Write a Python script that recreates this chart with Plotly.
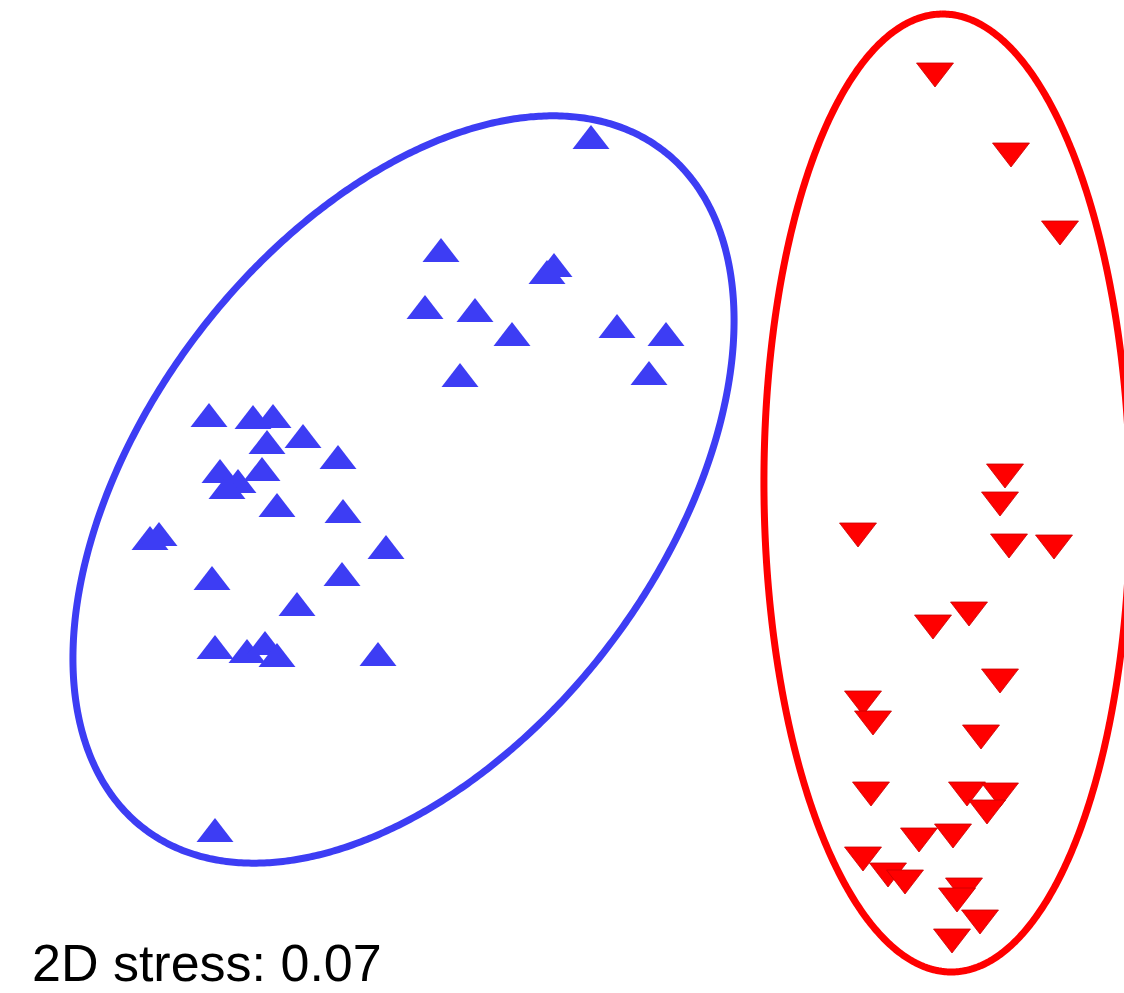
import numpy as np
import plotly.graph_objects as go

# NMDS ordination coordinates (screen units, y downward)
group_a_x = [209, 253, 273, 267, 303, 338, 220, 238, 227, 262, 277, 343, 150, 159, 386,
             212, 342, 297, 215, 247, 265, 277, 378, 215, 591, 441, 547, 554, 425, 475,
             512, 460, 617, 666, 649]
group_a_y = [419, 421, 420, 446, 440, 461, 475, 485, 491, 473, 509, 515, 542, 538, 551,
             582, 578, 608, 651, 655, 647, 659, 658, 834, 141, 254, 276, 269, 311, 314,
             338, 379, 330, 338, 377]

group_b_x = [935, 1011, 1060, 1005, 1000, 858, 1009, 1054, 969, 933, 1000, 863, 873, 981,
             871, 967, 1000, 987, 919, 953, 863, 888, 905, 964, 957, 980, 952]
group_b_y = [71, 151, 229, 472, 500, 531, 542, 543, 610, 623, 677, 699, 719, 733,
             790, 790, 791, 808, 836, 832, 855, 871, 878, 886, 896, 918, 937]

# Ellipse parameters: centre x, centre y, semi-major, semi-minor, angle (deg, counter-clockwise)
ellipse_a = dict(cx=403.5, cy=489.5, a=427, b=258, angle=52.6)
ellipse_b = dict(cx=947, cy=493, a=479, b=183, angle=90.6)

stress_label = "2D stress: 0.07"

BLUE = "#3D3DF4"
RED = "#FF0000"


def ellipse_xy(p, n=720):
    t = np.linspace(0, 2 * np.pi, n)
    th = np.deg2rad(p["angle"])
    x = p["cx"] + p["a"] * np.cos(th) * np.cos(t) - p["b"] * np.sin(th) * np.sin(t)
    y = p["cy"] - (p["a"] * np.sin(th) * np.cos(t) + p["b"] * np.cos(th) * np.sin(t))
    return x, y


fig = go.Figure()

ex, ey = ellipse_xy(ellipse_a)
fig.add_trace(go.Scatter(x=ex, y=ey, mode="lines",
                         line=dict(color=BLUE, width=7, simplify=False),
                         hoverinfo="skip", showlegend=False))
ex, ey = ellipse_xy(ellipse_b)
fig.add_trace(go.Scatter(x=ex, y=ey, mode="lines",
                         line=dict(color=RED, width=7, simplify=False),
                         hoverinfo="skip", showlegend=False))

fig.add_trace(go.Scatter(x=group_a_x, y=group_a_y, mode="markers",
                         marker=dict(symbol="triangle-up", size=32, color=BLUE,
                                     line=dict(width=0)),
                         showlegend=False))
fig.add_trace(go.Scatter(x=group_b_x, y=group_b_y, mode="markers",
                         marker=dict(symbol="triangle-down", size=32, color=RED,
                                     line=dict(width=0.8, color="#C80000")),
                         showlegend=False))

fig.add_annotation(x=30, y=963, xref="x", yref="y", text=stress_label, showarrow=False,
                   xanchor="left", yanchor="middle",
                   font=dict(family="Liberation Sans, Arial, sans-serif", size=52, color="black"))

fig.update_layout(
    width=1124, height=993,
    margin=dict(l=0, r=0, t=0, b=0),
    paper_bgcolor="white", plot_bgcolor="white",
    xaxis=dict(range=[0, 1124], visible=False, fixedrange=True),
    yaxis=dict(range=[993, 0], visible=False, fixedrange=True),
)

fig.write_html("out.html", post_script="document.body.style.margin='0';",
               config={"displayModeBar": False})
